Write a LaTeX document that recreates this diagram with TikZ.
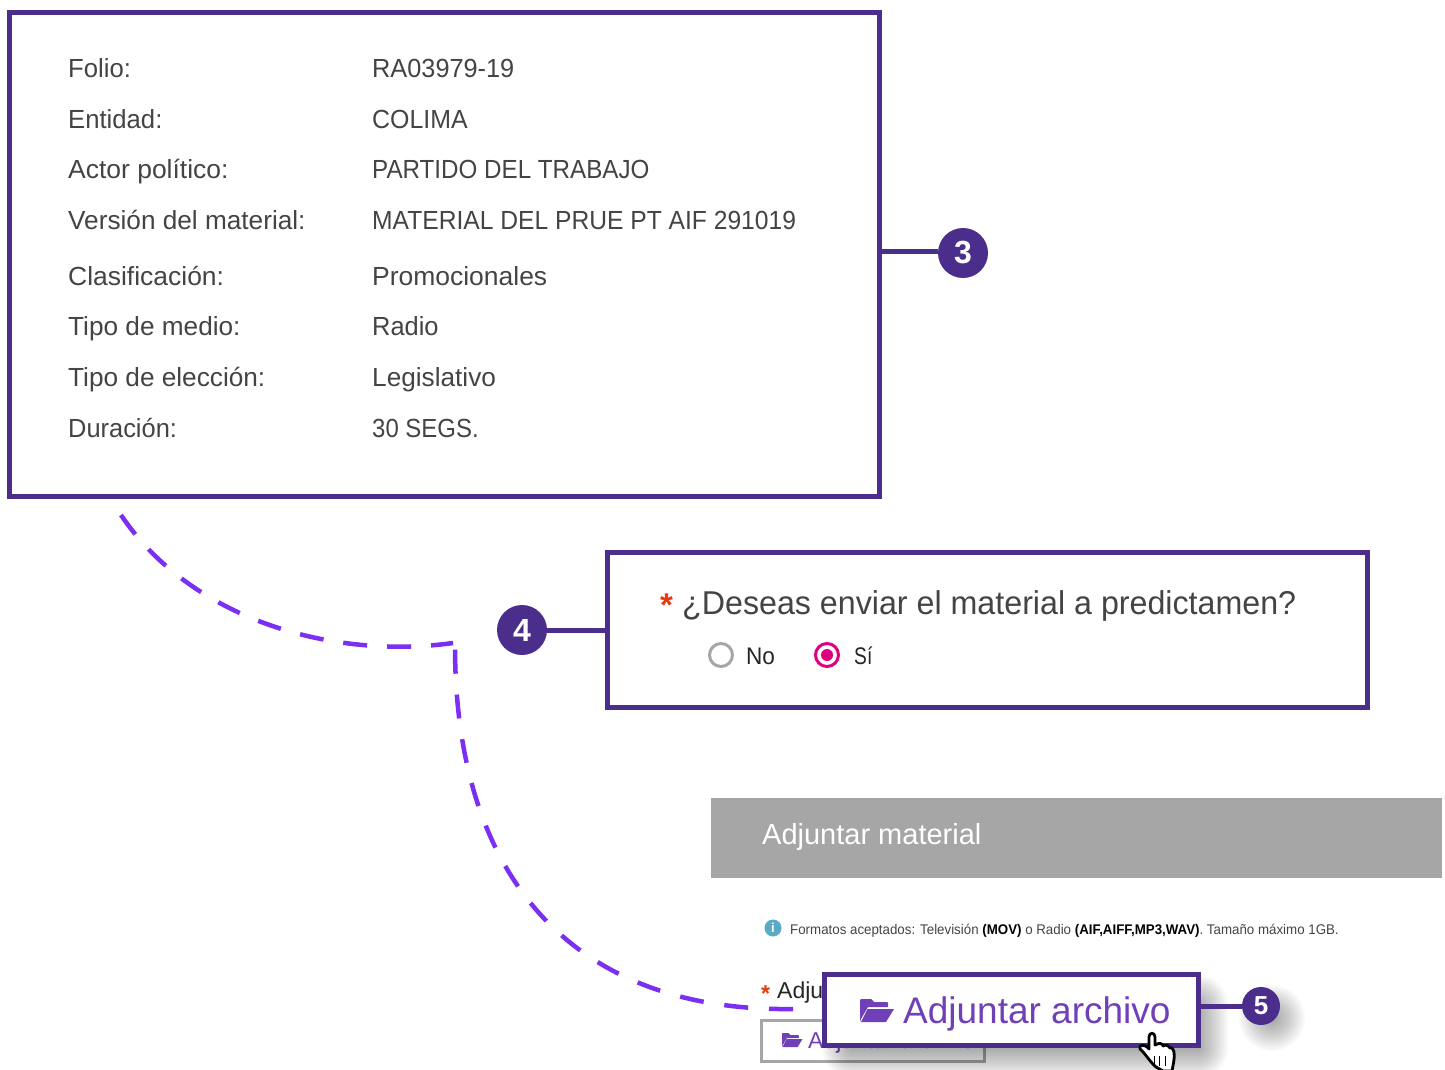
\documentclass[tikz,border=0pt]{standalone}
\usepackage{graphicx}
\usepackage{fontspec}
\setmainfont{Liberation Sans}
\definecolor{boxpurple}{HTML}{4B2E8C}
\definecolor{dashpurple}{HTML}{7B2FF2}
\definecolor{btnpurple}{HTML}{7040B8}
\definecolor{txt}{HTML}{444444}
\definecolor{barGray}{HTML}{A6A6A6}
\definecolor{redstar}{HTML}{E8380D}
\definecolor{magent}{HTML}{E0007F}
\definecolor{infoblue}{HTML}{5AA9C5}
\newcommand{\fz}[1]{\fontsize{#1}{#1}\selectfont}
\newcommand{\sx}[2]{\scalebox{#1}[1]{#2}}
\newcommand{\foldericon}[3]{%
  \begin{scope}[shift={(#1,#2)},scale=#3,x=1pt,y=-1pt]
    \fill[btnpurple] (0,25) -- (0,3) -- (1,2) -- (11,2) -- (14,5) -- (27,5) -- (28,6) -- (28,10) -- (8,10) -- (1,22) -- cycle;
    \fill[btnpurple] (7.5,12) -- (34,12) -- (26,25) -- (1,25) -- cycle;
  \end{scope}}
\tikzset{
  x=1pt,y=-1pt,
  framebox/.style={draw=boxpurple,fill=white,line width=5pt,rectangle,inner sep=0pt,anchor=north west},
  badge/.style={circle,fill=boxpurple,text=white,inner sep=0pt,font=\bfseries\fz{32}},
  conn/.style={draw=boxpurple,line width=5pt},
  flabel/.style={anchor=base west,inner sep=0pt,text=txt,font=\fz{26.2}},
  dashline/.style={draw=dashpurple,line width=4.5pt,dash pattern=on 24pt off 20pt},
}
\begin{document}
\begin{tikzpicture}
\useasboundingbox (0,0) rectangle (1445,1070);
\fill[white] (0,0) rectangle (1445,1070);
% dashed leader
\coordinate (d0) at (121,515);
\coordinate (d1) at (453,643);
\coordinate (d2) at (455,646);
\coordinate (d3) at (793,1009);
\draw[dashline] (d0) .. controls (190,618) and (330,660) .. (d1);
\draw[dashline,dash pattern=on 24pt off 20.9pt] (d3) .. controls (570,1012) and (455,875) .. (d2);
% box 3
\node[framebox,minimum width=870pt,minimum height=484pt] (box3) at (7,10) {};
\foreach \n/\a/\sa/\b/\sb/\y in {a/Folio:/.98/RA03979-19/.966/78,b/Entidad:/.98/COLIMA/.95/128.4,c/Actor político:/1.01/PARTIDO DEL TRABAJO/.923/178,d/Versión del material:/1/MATERIAL DEL PRUE PT AIF 291019/.94/229,e/Clasificación:/1.01/Promocionales/1.01/285,f/Tipo de medio:/1/Radio/.97/335,g/Tipo de elección:/1/Legislativo/1/386,h/Duración:/.97/30 SEGS./.914/437}{
  \node[flabel] (l\n) at (68,\y) {\sx{\sa}{\a}};
  \node[flabel] (v\n) at (372,\y) {\sx{\sb}{\b}};
}
\node[badge,minimum size=50pt] (c3) at (963,253) {3};
\draw[conn] (c3.west |- 0,251) -- (box3.east |- 0,251);
% box 4
\node[framebox,minimum width=760pt,minimum height=155pt] (box4) at (605,550) {};
\node[badge,minimum size=50pt] (c4) at (522,630) {4};
\draw[conn] (c4) -- (c4 -| box4.west);
\node[anchor=base west,inner sep=0pt,text=redstar,font=\bfseries\fz{33}] (star4) at (660,616) {*};
\node[flabel,font=\fz{33}] (q4) at (682,614) {\sx{.976}{¿Deseas enviar el material a predictamen?}};
\node[circle,draw=barGray,line width=3pt,fill=white,minimum size=23pt,inner sep=0pt] (rno) at (721,655) {};
\node[flabel,font=\fz{24},text=black!85] (tno) at (746,664) {\sx{.94}{No}};
\node[circle,draw=magent,line width=3pt,fill=white,minimum size=23pt,inner sep=0pt] (rsi) at (827,655) {};
\node[circle,fill=magent,minimum size=12pt,inner sep=0pt] (rsid) at (827,655) {};
\node[flabel,font=\fz{24},text=black!85] (tsi) at (854,664) {\sx{.8}{Sí}};
% adjuntar material
\node[rectangle,fill=barGray,minimum width=731pt,minimum height=80pt,inner sep=0pt,anchor=north west] (bar) at (711,798) {};
\node[flabel,text=white,font=\fz{29}] (bart) at (762,844) {Adjuntar material};
\node[circle,fill=infoblue,minimum size=17pt,inner sep=0pt,text=white,font=\bfseries\fz{13}] (info) at (773,928) {i};
\node[flabel,font=\fz{14}] (fmt) at (790,934) {\sx{.951}{Formatos aceptados: Televisión {\color{black}\bfseries (MOV)} o Radio {\color{black}\bfseries (AIF,AIFF,MP3,WAV)}. Tamaño máximo 1GB.}};
\node[anchor=base west,inner sep=0pt,text=redstar,font=\bfseries\fz{23}] (star5) at (761,1001) {*};
\node[flabel,font=\fz{23},text=black!85] (adju) at (777,998) {Adjuntar archivo};
\node[rectangle,draw=barGray,line width=3pt,fill=white,minimum width=223pt,minimum height=41pt,inner sep=0pt,anchor=north west] (btn) at (760,1019) {};
\foldericon{782}{1032}{0.6}
\node[flabel,font=\fz{23},text=btnpurple] (btnt) at (808,1048) {Adjuntar archivo};
% shadows
\foreach \r in {0,2,...,30}{
  \fill[black,opacity=0.024,rounded corners=\r pt] (852-\r,1005-\r) rectangle (1198+\r,1048+\r);
  \fill[black,opacity=0.024] (1272,1018) circle ({3+\r});
}
% box 5
\node[framebox,minimum width=374pt,minimum height=71pt] (box5) at (822,972) {};
\foldericon{860}{997}{1}
\node[flabel,font=\fz{37},text=btnpurple] (t5) at (903,1023) {Adjuntar archivo};
\node[badge,minimum size=38pt,font=\bfseries\fz{26}] (c5) at (1261,1006) {5};
\draw[conn] (c5) -- (c5 -| box5.east);
% hand cursor
\draw[black,fill=white,line width=2.8pt,line join=round]
  (1163,1071) -- (1156,1067) .. controls (1150,1062) and (1145,1053) .. (1140,1049)
  .. controls (1138,1045) and (1144,1043) .. (1149,1049) -- (1149,1037)
  .. controls (1149,1032) and (1155,1032) .. (1155,1037) -- (1155,1045)
  .. controls (1160,1042) and (1163,1044) .. (1163,1046)
  .. controls (1167,1044) and (1169,1046) .. (1170,1048)
  .. controls (1172,1047) and (1174,1050) .. (1174,1052)
  .. controls (1175,1058) and (1173,1065) .. (1172,1071) -- cycle;
\draw[black,line width=0.8pt] (1154,1056) -- (1154,1066) (1159,1056) -- (1159,1066) (1165,1056) -- (1165,1066);
\end{tikzpicture}
\end{document}
